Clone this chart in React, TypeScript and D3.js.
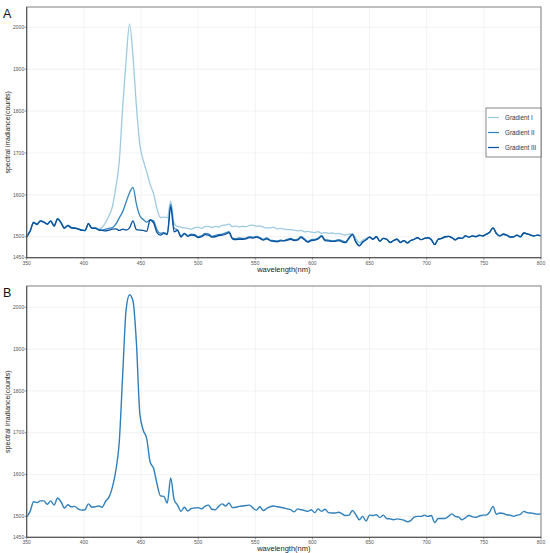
import React from "react";
import * as d3 from "d3";

// wavelength grid (nm), 3 nm step
const wavelengths: number[] = d3.range(350, 801, 3);

const gradientI: number[] = [
  1500,1515,1535,1530,1538,1536,1531,1538,1526,1543,
  1534,1521,1527,1522,1521,1519,1516,1515,1531,1520,
  1522,1518,1522,1534,1550,1572,1618,1680,1810,1922,
  2008,1930,1812,1720,1682,1655,1625,1603,1567,1546,
  1547,1545,1585,1532,1524,1523,1521,1520,1518,1522,
  1523,1520,1524,1525,1522,1525,1523,1527,1528,1530,
  1524,1526,1523,1525,1524,1527,1528,1525,1526,1523,
  1521,1521,1523,1519,1520,1518,1517,1517,1516,1514,
  1515,1512,1513,1511,1510,1512,1508,1510,1508,1509,
  1507,1508,1506,1504,1506,1507,1496,1486,1492,1496,
  1499,1494,1500,1489,1496,1494,1486,1491,1494,1486,
  1491,1485,1491,1494,1498,1493,1496,1498,1493,1481,
  1494,1496,1500,1501,1498,1493,1497,1496,1502,1499,
  1502,1500,1504,1502,1506,1511,1521,1508,1502,1506,
  1504,1499,1500,1504,1500,1509,1507,1504,1502,1504,
  1502,
];

const gradientII: number[] = [
  1501,1514,1533,1531,1537,1535,1530,1537,1527,1542,
  1533,1522,1526,1521,1522,1518,1517,1514,1530,1521,
  1521,1517,1516,1518,1520,1522,1530,1545,1560,1583,
  1605,1618,1578,1550,1541,1535,1540,1538,1516,1508,
  1510,1507,1578,1520,1516,1502,1508,1503,1506,1505,
  1500,1502,1508,1507,1501,1503,1505,1506,1509,1512,
  1497,1495,1497,1496,1497,1500,1499,1501,1498,1494,
  1497,1492,1491,1490,1492,1491,1494,1496,1493,1494,
  1500,1495,1489,1493,1494,1497,1503,1493,1492,1490,
  1491,1493,1490,1488,1498,1506,1489,1479,1488,1493,
  1499,1495,1500,1490,1496,1494,1487,1491,1494,1487,
  1491,1486,1491,1494,1497,1493,1496,1497,1494,1482,
  1494,1496,1499,1501,1498,1492,1497,1496,1502,1499,
  1502,1501,1503,1502,1506,1510,1521,1507,1502,1506,
  1504,1500,1500,1504,1500,1509,1507,1504,1502,1504,
  1502,
];

const gradientIII: number[] = [
  1499,1513,1534,1529,1538,1535,1530,1538,1525,1543,
  1534,1520,1527,1522,1520,1519,1515,1515,1532,1520,
  1520,1516,1515,1514,1516,1518,1519,1515,1518,1516,
  1521,1538,1517,1516,1515,1513,1540,1533,1510,1504,
  1508,1505,1572,1512,1515,1499,1507,1501,1504,1503,
  1498,1500,1505,1504,1499,1500,1503,1504,1506,1510,
  1495,1493,1494,1494,1495,1498,1497,1499,1496,1492,
  1495,1491,1489,1488,1490,1490,1492,1494,1491,1492,
  1498,1493,1487,1491,1492,1495,1501,1491,1490,1489,
  1489,1491,1488,1486,1496,1505,1487,1478,1487,1493,
  1499,1494,1500,1489,1496,1494,1486,1491,1494,1486,
  1491,1485,1491,1494,1498,1493,1496,1498,1493,1481,
  1494,1496,1500,1501,1498,1493,1497,1496,1502,1499,
  1502,1500,1504,1502,1506,1511,1521,1508,1502,1506,
  1504,1499,1500,1504,1500,1509,1507,1504,1502,1504,
  1502,
];

const panelB: number[] = [
  1499,1512,1535,1533,1537,1537,1529,1537,1527,1544,
  1535,1520,1528,1523,1524,1518,1515,1516,1530,1522,
  1523,1525,1522,1536,1546,1570,1610,1678,1840,1995,
  2030,2015,1915,1745,1706,1686,1630,1615,1578,1549,
  1548,1532,1592,1540,1527,1512,1522,1513,1519,1520,
  1521,1518,1524,1527,1517,1516,1524,1530,1525,1532,
  1521,1522,1524,1525,1526,1527,1520,1515,1523,1514,
  1519,1523,1525,1523,1522,1520,1518,1516,1511,1518,
  1516,1514,1512,1516,1509,1518,1512,1517,1509,1508,
  1508,1510,1506,1502,1503,1514,1504,1492,1500,1489,
  1503,1502,1504,1497,1503,1495,1494,1492,1494,1493,
  1491,1487,1490,1498,1500,1500,1503,1500,1502,1485,
  1495,1495,1495,1500,1506,1500,1498,1492,1497,1502,
  1499,1498,1501,1503,1503,1510,1524,1505,1508,1507,
  1504,1503,1500,1503,1505,1512,1509,1508,1507,1505,
  1506,
];

const xTicks: number[] = [350, 400, 450, 500, 550, 600, 650, 700, 750, 800];
const yTicks: number[] = [1450, 1500, 1600, 1700, 1800, 1900, 2000];
const seriesNames: string[] = ["Gradient I", "Gradient II", "Gradient III"];
const seriesColors: string[] = ["#9ecae1", "#3182bd", "#08519c"];
const panelBColor = "#2f7fbb";

const FONT = "Liberation Sans, Arial, sans-serif";

type PanelProps = {
  label: string;
  top: number;
  bottom: number;
  yAt1450: number;
  yAt2000: number;
  series: { values: number[]; color: string; width: number }[];
  legend: boolean;
};

function Panel({ label, top, bottom, yAt1450, yAt2000, series, legend }: PanelProps) {
  const left = 26.7;
  const right = 541;
  const x = d3.scaleLinear().domain([350, 800]).range([left, right]);
  const y = d3.scaleLinear().domain([1450, 2000]).range([yAt1450, yAt2000]);
  const line = (vals: number[]) =>
    d3
      .line<number>()
      .x((_, i) => x(wavelengths[i]))
      .y((d) => y(d))
      .curve(d3.curveMonotoneX)(vals) || "";
  const clipId = "clip-" + label;
  const midY = (top + bottom) / 2;
  return (
    <g>
      <defs>
        <clipPath id={clipId}>
          <rect x={left} y={top} width={right - left} height={bottom - top} />
        </clipPath>
      </defs>
      <text x={3} y={top + 11} fontSize={12.5} fontFamily={FONT} fill="#111">
        {label}
      </text>
      {/* grid */}
      {xTicks.map((t) => (
        <line key={"gx" + t} x1={x(t)} x2={x(t)} y1={top} y2={bottom} stroke="#ebebeb" strokeWidth={0.6} />
      ))}
      {yTicks.map((t) => (
        <line key={"gy" + t} x1={left} x2={right} y1={y(t)} y2={y(t)} stroke="#ebebeb" strokeWidth={0.6} />
      ))}
      {/* series */}
      <g clipPath={`url(#${clipId})`}>
        {series.map((s, i) => (
          <path key={i} d={line(s.values)} fill="none" stroke={s.color} strokeWidth={s.width} strokeLinejoin="round" />
        ))}
      </g>
      {/* frame */}
      <rect x={left} y={top} width={right - left} height={bottom - top} fill="none" stroke="#8a8a8a" strokeWidth={1.1} />
      <line x1={left} x2={left} y1={top} y2={bottom} stroke="#444" strokeWidth={0.9} />
      <line x1={left} x2={right} y1={bottom} y2={bottom} stroke="#444" strokeWidth={0.9} />
      {/* y ticks */}
      {yTicks.map((t) => (
        <g key={"yt" + t}>
          <line x1={left - 2} x2={left} y1={y(t)} y2={y(t)} stroke="#444" strokeWidth={0.6} />
          <text x={left - 2.5} y={y(t) + 1.7} fontSize={5} textAnchor="end" fill="#555" fontFamily={FONT}>
            {t}
          </text>
        </g>
      ))}
      {/* x ticks */}
      {xTicks.map((t) => (
        <g key={"xt" + t}>
          <line x1={x(t)} x2={x(t)} y1={bottom} y2={bottom + 2} stroke="#444" strokeWidth={0.6} />
          <text x={x(t)} y={bottom + 7} fontSize={5} textAnchor="middle" fill="#555" fontFamily={FONT}>
            {t}
          </text>
        </g>
      ))}
      <text x={(left + right) / 2} y={bottom + 14} fontSize={7.5} textAnchor="middle" fill="#222" fontFamily={FONT}>
        wavelength(nm)
      </text>
      <text
        transform={`translate(9.5,${midY}) rotate(-90)`}
        fontSize={7}
        textAnchor="middle"
        fill="#222"
        fontFamily={FONT}
      >
        spectral irradiance(counts)
      </text>
      {legend && (
        <g>
          <rect x={486} y={108} width={55} height={49} fill="#fff" stroke="#555" strokeWidth={0.7} />
          {seriesNames.map((n, i) => (
            <g key={n}>
              <line x1={488} x2={499} y1={117.5 + i * 15} y2={117.5 + i * 15} stroke={seriesColors[i]} strokeWidth={1.2} />
              <text x={505} y={119.8 + i * 15} fontSize={6.3} fill="#333" fontFamily={FONT}>
                {n}
              </text>
            </g>
          ))}
        </g>
      )}
    </g>
  );
}

export default function App() {
  return (
    <svg
      width={550}
      height={553}
      style={{ position: "absolute", left: 0, top: 0, background: "#fff" }}
    >
      <rect width={550} height={553} fill="#fff" />
      <Panel
        label="A"
        top={7}
        bottom={257.7}
        yAt1450={257.7}
        yAt2000={27.3}
        legend={true}
        series={[
          { values: gradientI, color: seriesColors[0], width: 1.3 },
          { values: gradientII, color: seriesColors[1], width: 1.3 },
          { values: gradientIII, color: seriesColors[2], width: 1.3 },
        ]}
      />
      <Panel
        label="B"
        top={286}
        bottom={537.3}
        yAt1450={537.3}
        yAt2000={307.3}
        legend={false}
        series={[{ values: panelB, color: panelBColor, width: 1.4 }]}
      />
    </svg>
  );
}
